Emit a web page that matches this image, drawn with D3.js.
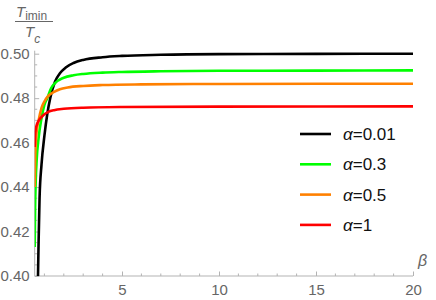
<!DOCTYPE html>
<html>
<head>
<meta charset="utf-8">
<script src="https://cdn.jsdelivr.net/npm/d3@7"></script>
<style>
  body { margin: 0; background: #fff; }
  svg { font-family: "Liberation Sans", Arial, sans-serif; }
  .axis path, .axis line { stroke: #b3b3b3; }
  .axis text { fill: #666; font-size: 15px; }
</style>
</head>
<body>
<div id="chart"></div>
<script>

// beta values and T_imin/T_c
var betaBlack = [0.66, 0.70, 0.75, 0.85, 1.0, 1.15, 1.3, 1.55, 1.8, 2.1, 2.5, 3.0, 4.0, 5.0, 7.0, 10, 15, 20];
var tBlack    = [0.395, 0.415, 0.435, 0.450, 0.463, 0.473, 0.480, 0.4875, 0.4912, 0.4938, 0.4958, 0.4972, 0.4984, 0.4990, 0.4995, 0.4998, 0.4999, 0.5];

var betaGreen = [0.5, 0.52, 0.55, 0.6, 0.7, 0.85, 1.0, 1.15, 1.35, 1.55, 2.0, 2.5, 3.0, 4.0, 5.0, 7.0, 10, 15, 20];
var tGreen    = [0.413, 0.430, 0.442, 0.452, 0.462, 0.471, 0.477, 0.480, 0.4845, 0.4868, 0.4892, 0.4903, 0.4909, 0.4915, 0.4918, 0.4921, 0.4923, 0.4924, 0.4925];

var betaOrange = [0.5, 0.52, 0.55, 0.6, 0.7, 0.85, 1.0, 1.2, 1.5, 1.8, 2.2, 3.0, 4.0, 6.0, 10, 20];
var tOrange    = [0.440, 0.452, 0.459, 0.465, 0.470, 0.4755, 0.4785, 0.481, 0.4828, 0.4840, 0.4848, 0.4855, 0.4859, 0.4862, 0.4864, 0.4865];

var betaRed = [0.5, 0.52, 0.55, 0.6, 0.7, 0.85, 1.0, 1.2, 1.5, 2.0, 3.0, 5.0, 10, 20];
var tRed    = [0.458, 0.4635, 0.466, 0.4678, 0.4698, 0.4715, 0.4728, 0.4738, 0.4746, 0.4752, 0.4757, 0.4760, 0.4762, 0.4763];

var labels = ["0.01", "0.3", "0.5", "1"];
var colors = ["#000000", "#00ff00", "#ff8000", "#ff0000"];

var xMajor = [5, 10, 15, 20];
var xMinor = [1, 2, 3, 4, 6, 7, 8, 9, 11, 12, 13, 14, 16, 17, 18, 19];
var yMajor = [0.40, 0.42, 0.44, 0.46, 0.48, 0.50];
var yMinor = [0.405, 0.41, 0.415, 0.425, 0.43, 0.435, 0.445, 0.45, 0.455, 0.465, 0.47, 0.475, 0.485, 0.49, 0.495];

var series = [
  { beta: betaBlack, t: tBlack },
  { beta: betaGreen, t: tGreen },
  { beta: betaOrange, t: tOrange },
  { beta: betaRed, t: tRed }
];

var W = 436, H = 300;
var plotL = 34.7, plotR = 413, plotT = 53.7, plotB = 276;

var svg = d3.select("#chart").append("svg")
    .attr("width", W)
    .attr("height", H);

var x = d3.scaleLinear().domain([0.5, 20]).range([plotL, plotR]);
var y = d3.scaleLinear().domain([0.40, 0.50]).range([plotB, plotT]);

svg.append("clipPath").attr("id", "plot")
  .append("rect")
    .attr("x", plotL).attr("y", plotT - 4)
    .attr("width", plotR - plotL).attr("height", plotB - plotT + 4);

// x axis
var gx = svg.append("g")
    .attr("class", "axis")
    .attr("transform", "translate(0," + plotB + ")");
gx.call(d3.axisBottom(x).tickValues(xMajor).tickSize(-4.5).tickPadding(8).tickSizeOuter(0));
gx.select(".domain").attr("d", "M" + plotL + ",0H" + plotR);
gx.selectAll(".minor")
    .data(xMinor).enter()
    .append("line")
    .attr("x1", function(d) { return x(d); })
    .attr("x2", function(d) { return x(d); })
    .attr("y1", 0).attr("y2", -2.5)
    .attr("stroke", "#b3b3b3");

// y axis
var gy = svg.append("g")
    .attr("class", "axis")
    .attr("transform", "translate(" + plotL + ",0)");
gy.call(d3.axisLeft(y).tickValues(yMajor).tickFormat(d3.format(".2f")).tickSize(-4.5).tickPadding(5).tickSizeOuter(0));
gy.select(".domain").attr("d", "M0," + plotB + "V" + (plotT - 3));
gy.selectAll(".minor")
    .data(yMinor).enter()
    .append("line")
    .attr("y1", function(d) { return y(d); })
    .attr("y2", function(d) { return y(d); })
    .attr("x1", 0).attr("x2", 2.5)
    .attr("stroke", "#b3b3b3");

// curves
var line = d3.line()
    .x(function(d) { return x(d[0]); })
    .y(function(d) { return y(d[1]); })
    .curve(d3.curveMonotoneX);

svg.append("g")
    .attr("clip-path", "url(#plot)")
  .selectAll("path")
    .data(series).enter()
    .append("path")
    .attr("d", function(s) { return line(d3.zip(s.beta, s.t)); })
    .attr("fill", "none")
    .attr("stroke", function(s, i) { return colors[i]; })
    .attr("stroke-width", 2.6)
    .attr("stroke-linejoin", "round");

// axis labels
svg.append("text")
    .attr("x", 418).attr("y", 266)
    .attr("fill", "#666")
    .style("font-size", "16px")
    .style("font-style", "italic")
    .text("β");

var frac = svg.append("g").attr("fill", "#666");
frac.append("text")
    .attr("x", 16).attr("y", 17)
    .style("font-size", "15px")
    .html('<tspan font-style="italic">T</tspan><tspan dy="3" font-size="12px">imin</tspan>');
frac.append("line")
    .attr("x1", 15).attr("x2", 53)
    .attr("y1", 21.5).attr("y2", 21.5)
    .attr("stroke", "#666").attr("stroke-width", 1);
frac.append("text")
    .attr("x", 25).attr("y", 36.5)
    .style("font-size", "15px")
    .html('<tspan font-style="italic">T</tspan><tspan dy="6" font-size="12px" font-style="italic">c</tspan>');

// legend
var legend = svg.append("g");
labels.forEach(function(lab, i) {
    var ly = 134 + i * 30.3;
    legend.append("line")
        .attr("x1", 300).attr("x2", 331)
        .attr("y1", ly).attr("y2", ly)
        .attr("stroke", colors[i])
        .attr("stroke-width", 2.6);
    legend.append("text")
        .attr("x", 343).attr("y", ly + 6)
        .attr("fill", "#111")
        .style("font-size", "17px")
        .html('<tspan font-style="italic">α</tspan>=' + lab);
});

</script>
</body>
</html>
